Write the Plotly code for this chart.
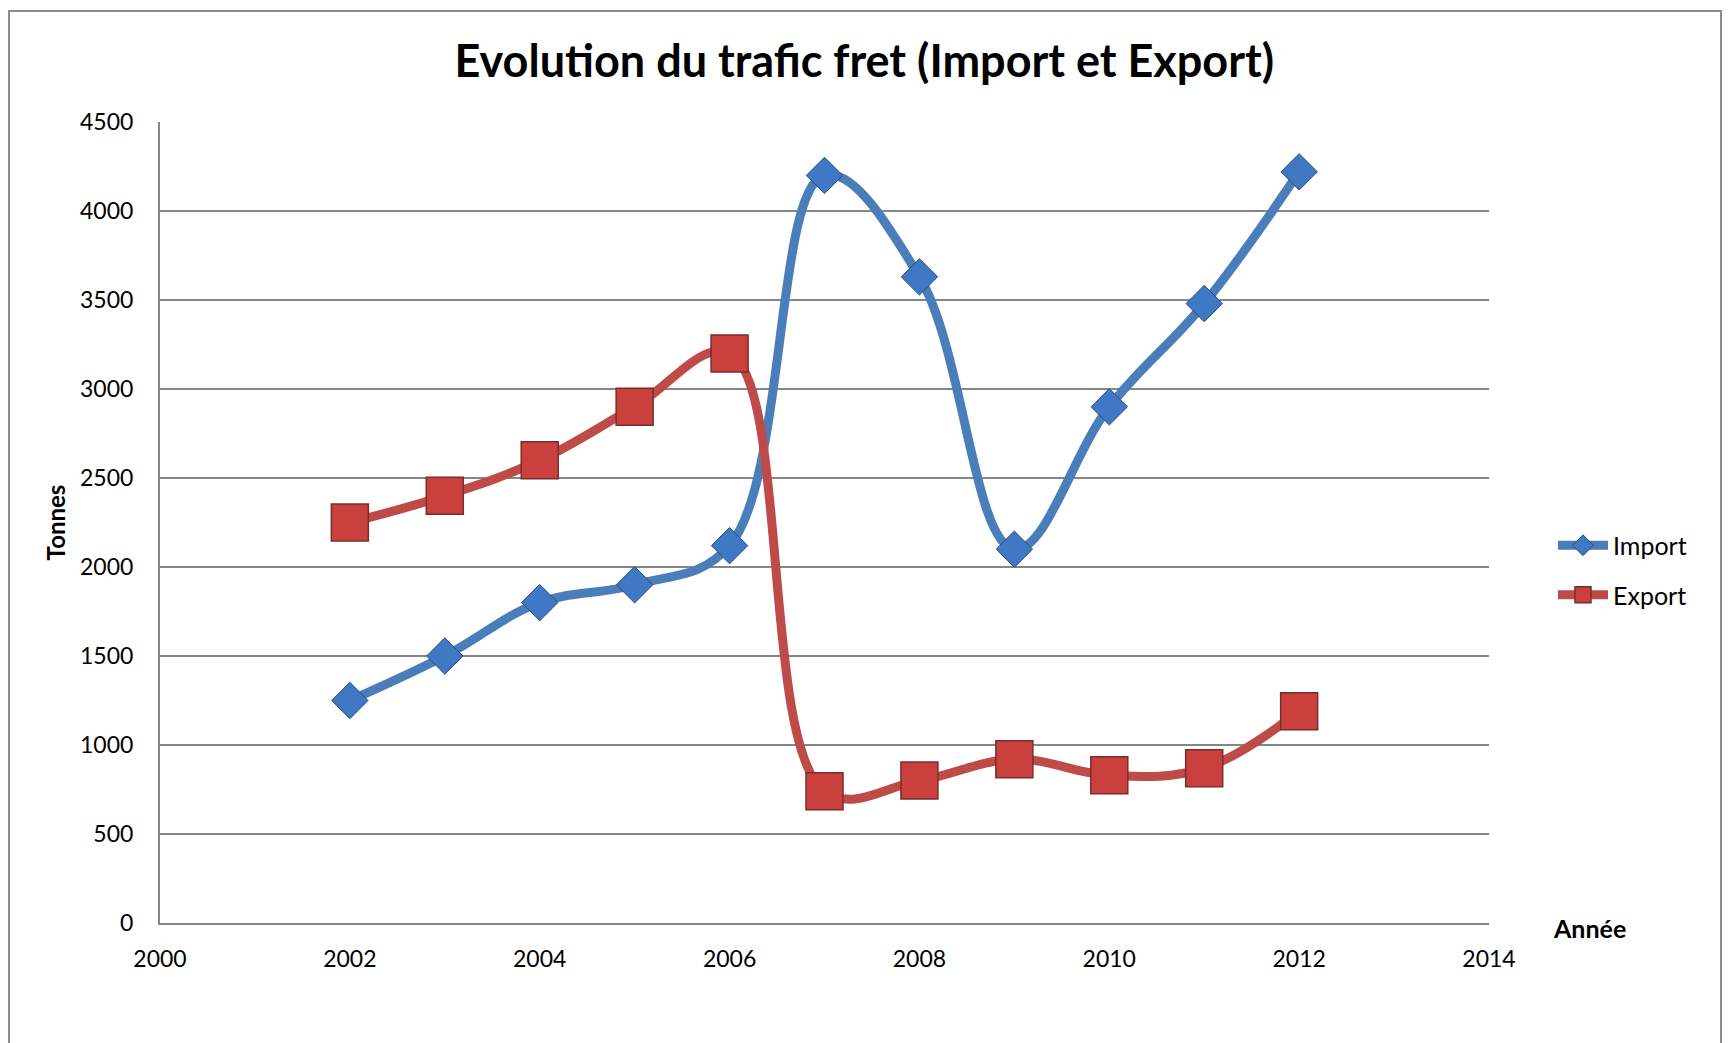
import plotly.graph_objects as go

years = [2002, 2003, 2004, 2005, 2006, 2007, 2008, 2009, 2010, 2011, 2012]
import_vals = [1250, 1500, 1800, 1900, 2120, 4200, 3630, 2100, 2900, 3480, 4220]
export_vals = [2250, 2400, 2600, 2900, 3200, 740, 800, 920, 830, 870, 1190]

OFF = 8  # page body margin
W, H = 1733 - OFF, 1043 - OFF
L, T = 160 - OFF, 122 - OFF
pw = 1329
ph = 923 - 122
R = W - L - pw
B = H - T - ph

def px(xp):
    return (xp - OFF - L) / pw

def py(yp):
    return (T + ph - (yp - OFF)) / ph

fig = go.Figure()
fig.add_trace(go.Scatter(
    x=years, y=import_vals, name="Import", mode="lines+markers",
    legendgroup="imp",
    line=dict(color="#4A7EBB", width=9, shape="spline", smoothing=1.1),
    marker=dict(symbol="diamond", size=28, color="#3F78C4",
                line=dict(color="#2C4D75", width=1)),
))
fig.add_trace(go.Scatter(
    x=years, y=export_vals, name="Export", mode="lines+markers",
    legendgroup="exp",
    line=dict(color="#BE4B48", width=9, shape="spline", smoothing=1.1),
    marker=dict(symbol="square", size=37, color="#C9403C",
                line=dict(color="#7A2E2C", width=1.5)),
))

fig.update_layout(
    width=W, height=H,
    margin=dict(l=L, r=R, t=T, b=B),
    paper_bgcolor="white", plot_bgcolor="white",
    font=dict(family="Lato, Open Sans, sans-serif", color="black"),
    title=dict(text="<b>Evolution du trafic fret (Import et Export)</b>",
               x=(782 * 1733 / 1568 - OFF) / W, xanchor="center",
               y=1 - (61 - OFF) / H, yanchor="middle",
               font=dict(size=45, color="black")),
    legend=dict(x=px(1553), y=py(570), xanchor="left", yanchor="middle",
                font=dict(size=25), itemwidth=50, tracegroupgap=14,
                bgcolor="rgba(0,0,0,0)"),
    showlegend=True,
)
fig.update_xaxes(range=[2000, 2014], dtick=2, tick0=2000, showgrid=False,
                 showline=True, linecolor="#868686", linewidth=2,
                 ticks="", tickfont=dict(size=23), ticklabelstandoff=14,
                 zeroline=False)
fig.update_yaxes(range=[0, 4500], dtick=500, showgrid=True,
                 gridcolor="#868686", gridwidth=1.5,
                 showline=True, linecolor="#868686", linewidth=2,
                 ticks="", tickfont=dict(size=23), ticklabelstandoff=20,
                 zeroline=False,
                 title=dict(text="<b>Tonnes</b>", font=dict(size=24), standoff=8))

fig.add_annotation(text="<b>Année</b>", xref="paper", yref="paper",
                   x=px(1589), y=py(928), xanchor="center", yanchor="middle",
                   showarrow=False, font=dict(size=25))

fig.add_shape(type="rect", xref="paper", yref="paper",
              x0=px(9), x1=px(1721), y0=py(1080), y1=py(11),
              line=dict(color="#8C8C8C", width=2), layer="below")

fig.write_html("out.html")
